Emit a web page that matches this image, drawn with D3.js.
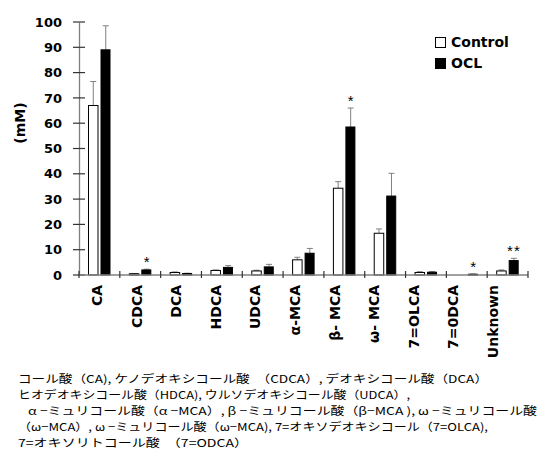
<!DOCTYPE html>
<html><head><meta charset="utf-8">
<script src="https://cdn.jsdelivr.net/npm/d3@7"></script>
<style>body{margin:0;background:#fff}svg{display:block}</style>
</head><body>
<svg id="c" width="540" height="453"></svg>
<script>
const categories = ["CA","CDCA","DCA","HDCA","UDCA","α-MCA","β- MCA","ω- MCA","7=OLCA","7=0DCA","Unknown"];
const controlValues = [67, 0.5, 1.0, 1.8, 1.6, 6.0, 34.3, 16.5, 1.0, 0, 1.6];
const controlErr    = [9.5, 0.1, 0.2, 0.2, 0.3, 1.0, 2.6, 1.7, 0.3, 0, 0.4];
const oclValues     = [89, 2.0, 0.6, 3.0, 3.2, 8.6, 58.5, 31.2, 1.1, 0.3, 5.7];
const oclErr        = [9.5, 0.3, 0.1, 0.7, 1.0, 1.9, 7.5, 9.0, 0.3, 0.1, 0.9];
const significance  = ["","*","","","","","*","","","*","**"];
const yTicks = [0,10,20,30,40,50,60,70,80,90,100];
const seriesNames = ["Control","OCL"];
const yLabel = "(mM)";
const captionLines = [
  "コール酸（CA), ケノデオキシコール酸　（CDCA）, デオキシコール酸（DCA）",
  "ヒオデオキシコール酸（HDCA), ウルソデオキシコール酸（UDCA）,",
  " α −ミュリコール酸（α −MCA）, β −ミュリコール酸（β−MCA ), ω −ミュリコール酸",
  "（ω−MCA）, ω −ミュリコール酸（ω−MCA), 7=オキソデオキシコール（7=OLCA),",
  "7=オキソリトコール酸　（7=ODCA）"
];
const captionX = [18,18,25,18,18];
const captionW = [470,392,512,470,230];

const svg = d3.select("#c");
const x = d3.scaleBand().domain(categories).range([79,528]);
const xl = d3.scalePoint().domain(categories).range([97,493]);
const y = d3.scaleLinear().domain([0,100]).range([275,22]);
const axisColor = "#808080";
const boldFont = "DejaVu Sans, Liberation Sans, sans-serif";

// Y axis
const ya = svg.append("g").attr("transform","translate(79,0)")
  .call(d3.axisLeft(y).tickValues(yTicks).tickSize(0).tickPadding(0).tickFormat(""));
ya.select(".domain").attr("stroke",axisColor).attr("stroke-width",1.3);
svg.append("g").selectAll("line").data(yTicks).join("line")
  .attr("x1",73).attr("x2",85).attr("y1",d=>y(d)).attr("y2",d=>y(d))
  .attr("stroke","#333").attr("stroke-width",1.2);
svg.append("g").selectAll("text").data(yTicks).join("text")
  .attr("x",62).attr("y",d=>y(d)).attr("dy","0.36em")
  .attr("text-anchor","end").attr("font-family",boldFont).attr("font-weight","bold")
  .attr("font-size",13).attr("fill","#000").text(d=>d);

svg.append("text").attr("transform","translate(25,123) rotate(-90)")
  .attr("text-anchor","middle").attr("font-family",boldFont).attr("font-weight","bold")
  .attr("font-size",14).text(yLabel);

// Bars
const g = svg.append("g");
const idx = d3.range(categories.length);
const cOff = 9.5, oOff = 22, bw = 9.5;
function errBars(vals, errs, off){
  const eg = g.append("g").attr("stroke","#808080").attr("stroke-width",1);
  idx.filter(i=>errs[i]>0).forEach(i=>{
    const cx = x(categories[i]) + off + bw/2;
    eg.append("line").attr("x1",cx).attr("x2",cx).attr("y1",y(vals[i])).attr("y2",y(vals[i]+errs[i]));
    eg.append("line").attr("x1",cx-3).attr("x2",cx+3).attr("y1",y(vals[i]+errs[i])).attr("y2",y(vals[i]+errs[i]));
  });
}
errBars(controlValues, controlErr, cOff);
errBars(oclValues, oclErr, oOff);
g.append("g").selectAll("rect").data(idx).join("rect")
  .attr("x",i=>x(categories[i])+cOff).attr("width",bw)
  .attr("y",i=>y(controlValues[i])).attr("height",i=>y(0)-y(controlValues[i]))
  .attr("fill","#fff").attr("stroke","#000").attr("stroke-width",1);
g.append("g").selectAll("rect").data(idx).join("rect")
  .attr("x",i=>x(categories[i])+oOff).attr("width",bw-0.5)
  .attr("y",i=>y(oclValues[i])).attr("height",i=>y(0)-y(oclValues[i]))
  .attr("fill","#000").attr("stroke","#000").attr("stroke-width",1);

// significance
svg.append("g").selectAll("text").data(idx.filter(i=>significance[i])).join("text")
  .attr("x",i=>x(categories[i])+oOff+bw/2).attr("y",i=>y(oclValues[i]+oclErr[i])-2)
  .attr("text-anchor","middle").attr("font-family","Liberation Sans, Arial, sans-serif")
  .attr("font-size",15).attr("letter-spacing",i=>significance[i].length>1?"1px":"0").text(i=>significance[i]);

// X axis
svg.append("line").attr("x1",79).attr("x2",528).attr("y1",y(0)).attr("y2",y(0))
  .attr("stroke",axisColor).attr("stroke-width",1.3);
const bounds = categories.map(c=>x(c)).concat([x(categories[categories.length-1])+x.bandwidth()]);
svg.append("g").selectAll("line").data(bounds).join("line")
  .attr("x1",d=>d).attr("x2",d=>d).attr("y1",y(0)-4).attr("y2",y(0)+3)
  .attr("stroke","#333").attr("stroke-width",1.2);
svg.append("g").selectAll("text").data(categories).join("text")
  .attr("transform",d=>`translate(${xl(d)},285) rotate(-90)`).attr("dy","0.36em")
  .attr("text-anchor","end").attr("font-family",boldFont).attr("font-weight","bold")
  .attr("font-size",14).text(d=>d);

// Legend
const lg = svg.append("g");
seriesNames.forEach((s,i)=>{
  const ly = 37 + i*21;
  lg.append("rect").attr("x",435.5).attr("y",ly+0.5).attr("width",10).attr("height",10)
    .attr("fill",i===0?"#fff":"#000").attr("stroke","#000").attr("stroke-width",1);
  lg.append("text").attr("x",451).attr("y",ly+10).attr("font-family",boldFont)
    .attr("font-weight","bold").attr("font-size",14).text(s);
});

// Caption
svg.append("g").selectAll("text").data(captionLines).join("text")
  .attr("x",(d,i)=>captionX[i]).attr("y",(d,i)=>383+i*16)
  .attr("font-family","Noto Sans CJK JP, sans-serif").attr("font-size",11)
  .attr("textLength",(d,i)=>captionW[i]).attr("lengthAdjust","spacingAndGlyphs")
  .style("white-space","pre").text(d=>d);
</script>
</body></html>
